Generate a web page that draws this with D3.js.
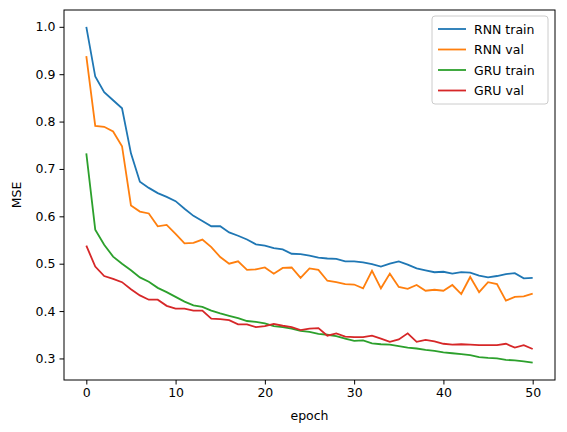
<!DOCTYPE html>
<html><head><meta charset="utf-8">
<script src="https://cdn.jsdelivr.net/npm/d3@7"></script>
<style>body{margin:0;background:#fff}svg{font-family:"DejaVu Sans",sans-serif}</style>
</head><body><svg id="c" width="567" height="432"></svg>
<script>
const epochs = d3.range(51);
const rnnTrain = [1.0,.895,.862,.845,.828,.733,.673,.66,.649,.641,.632,.616,.601,.59,.579,.579,.566,.559,.551,.541,.538,.533,.53,.521,.52,.517,.513,.511,.51,.505,.505,.503,.499,.494,.5,.505,.498,.49,.486,.482,.483,.479,.482,.481,.475,.471,.474,.478,.48,.469,.47];
const rnnVal = [.938,.791,.789,.779,.748,.623,.61,.606,.579,.582,.563,.543,.544,.551,.535,.514,.5,.505,.487,.488,.492,.479,.491,.492,.47,.49,.487,.464,.461,.457,.456,.448,.485,.448,.479,.451,.447,.455,.443,.445,.443,.455,.436,.472,.44,.461,.457,.422,.43,.431,.437];
const gruTrain = [.733,.572,.54,.515,.5,.486,.471,.462,.449,.44,.43,.42,.412,.409,.401,.395,.39,.385,.379,.377,.374,.368,.366,.363,.358,.356,.352,.35,.347,.342,.337,.338,.332,.33,.329,.326,.323,.321,.318,.316,.313,.311,.309,.307,.303,.301,.3,.297,.296,.294,.291];
const gruVal = [.538,.494,.474,.468,.461,.446,.433,.424,.424,.411,.405,.405,.401,.401,.384,.383,.381,.372,.372,.366,.368,.373,.369,.366,.36,.363,.364,.348,.353,.346,.345,.345,.348,.342,.335,.34,.353,.335,.339,.336,.331,.329,.33,.329,.328,.328,.328,.331,.323,.328,.32];
const seriesNames = ["RNN train","RNN val","GRU train","GRU val"];
const colors = ["#1f77b4","#ff7f0e","#2ca02c","#d62728"];
const xTicks = [0,10,20,30,40,50];
const yTicks = [0.3,0.4,0.5,0.6,0.7,0.8,0.9,1.0];

const L=64,R=555,T=10,B=380,FS=12.5;
const svg=d3.select("#c");
const x=d3.scaleLinear().domain([-2.5,52.5]).range([L,R]);
const y=d3.scaleLinear().domain([0.2545,1.0355]).range([B,T]);
const all=[rnnTrain,rnnVal,gruTrain,gruVal];
const line=d3.line().x((d,i)=>x(epochs[i])).y(d=>y(d));
all.forEach((s,k)=>svg.append("path").attr("d",line(s)).attr("fill","none").attr("stroke",colors[k]).attr("stroke-width",1.8));
const ax=svg.append("g").attr("transform",`translate(0,${B})`).call(d3.axisBottom(x).tickValues(xTicks).tickSize(4.5).tickPadding(4));
const ay=svg.append("g").attr("transform",`translate(${L},0)`).call(d3.axisLeft(y).tickValues(yTicks).tickFormat(d3.format(".1f")).tickSize(4.5).tickPadding(4));
[ax,ay].forEach(a=>{a.select(".domain").remove();a.selectAll("text").attr("font-size",FS).attr("fill","#000").attr("font-family","DejaVu Sans");a.selectAll("line").attr("stroke","#000");});
svg.append("rect").attr("x",L).attr("y",T).attr("width",R-L).attr("height",B-T).attr("fill","none").attr("stroke","#000").attr("stroke-width",1);
svg.append("text").attr("x",(L+R)/2).attr("y",420).attr("text-anchor","middle").attr("font-size",FS).text("epoch");
svg.append("text").attr("transform",`translate(21,${(T+B)/2}) rotate(-90)`).attr("text-anchor","middle").attr("font-size",FS).text("MSE");
const lg=svg.append("g").attr("transform","translate(432,16)");
lg.append("rect").attr("width",116).attr("height",88).attr("rx",3).attr("fill","#fff").attr("fill-opacity",0.8).attr("stroke","#ccc");
seriesNames.forEach((n,k)=>{
  const yy=13+k*20.5;
  lg.append("line").attr("x1",6).attr("x2",34).attr("y1",yy).attr("y2",yy).attr("stroke",colors[k]).attr("stroke-width",1.8);
  lg.append("text").attr("x",42).attr("y",yy+4.5).attr("font-size",FS).text(n);
});
</script></body></html>
